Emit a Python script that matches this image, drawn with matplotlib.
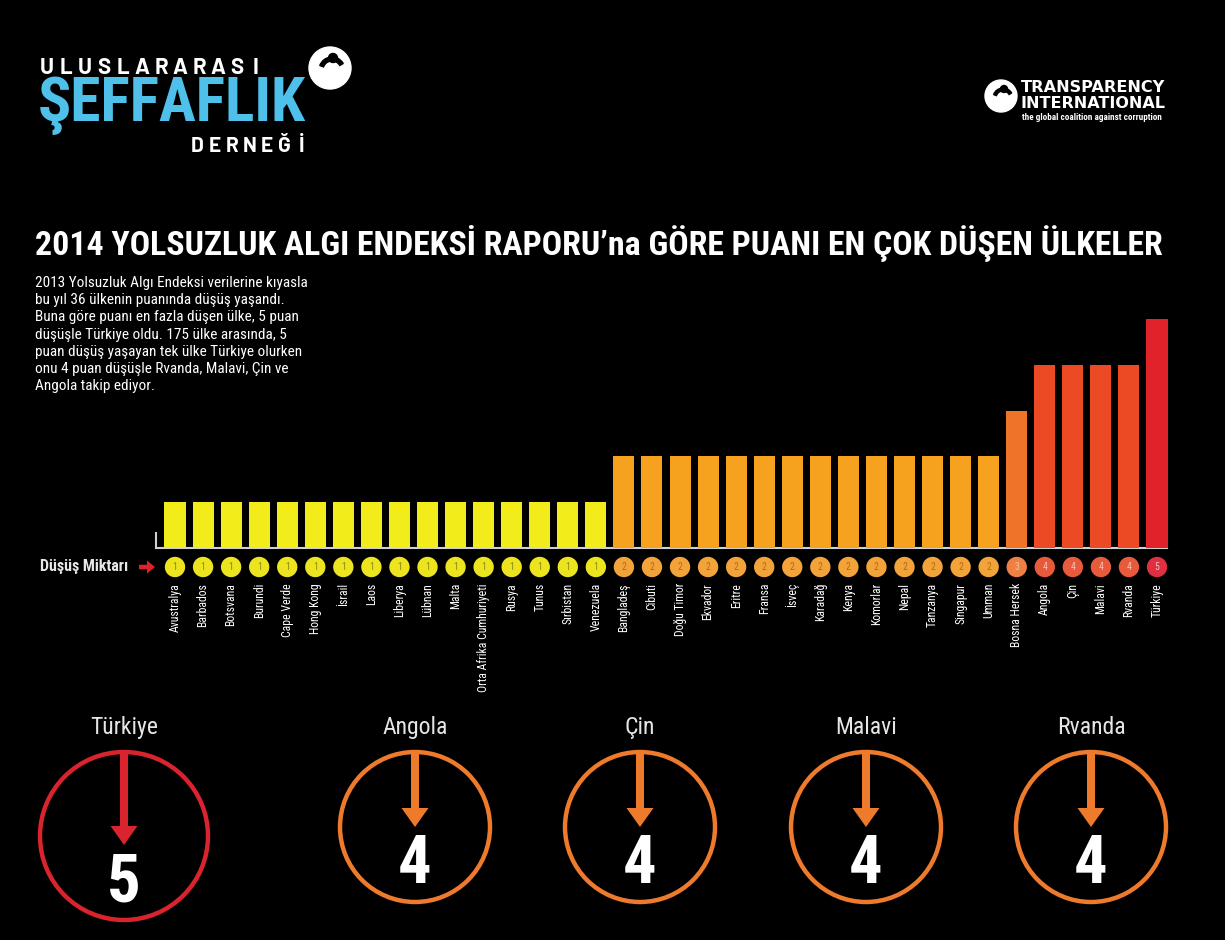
import matplotlib
matplotlib.use("Agg")
import matplotlib.pyplot as plt
from matplotlib import font_manager
from matplotlib.patches import Circle, FancyArrow, Wedge

# ---------------- data ----------------
countries = ["Avustralya", "Barbados", "Botsvana", "Burundi", "Cape Verde", "Hong Kong",
             "İsrail", "Laos", "Liberya", "Lübnan", "Malta", "Orta Afrika Cumhuriyeti",
             "Rusya", "Tunus", "Sırbistan", "Venezuela",
             "Bangladeş", "Cibuti", "Doğu Timor", "Ekvador", "Eritre", "Fransa", "İsveç",
             "Karadağ", "Kenya", "Komorlar", "Nepal", "Tanzanya", "Singapur", "Umman",
             "Bosna Hersek", "Angola", "Çin", "Malavi", "Rvanda", "Türkiye"]
drops = [1, 1, 1, 1, 1, 1, 1, 1, 1, 1, 1, 1, 1, 1, 1, 1,
         2, 2, 2, 2, 2, 2, 2, 2, 2, 2, 2, 2, 2, 2,
         3, 4, 4, 4, 4, 5]
top_names = ["Türkiye", "Angola", "Çin", "Malavi", "Rvanda"]
top_drops = [5, 4, 4, 4, 4]

title = "2014 YOLSUZLUK ALGI ENDEKSİ RAPORU\u2019na GÖRE PUANI EN ÇOK DÜŞEN ÜLKELER"
intro_lines = ["2013 Yolsuzluk Algı Endeksi verilerine kıyasla",
               "bu yıl 36 ülkenin puanında düşüş yaşandı.",
               "Buna göre puanı en fazla düşen ülke, 5 puan",
               "düşüşle Türkiye oldu. 175 ülke arasında, 5",
               "puan düşüş yaşayan tek ülke Türkiye olurken",
               "onu 4 puan düşüşle Rvanda, Malavi, Çin ve",
               "Angola takip ediyor."]

# ---------------- styles ----------------
names = {f.name for f in font_manager.fontManager.ttflist}


def pick(*cands):
    for c in cands:
        if c in names:
            return c
    return "DejaVu Sans"


COND = pick("Roboto Condensed", "Liberation Sans Narrow", "Liberation Sans")
LOGO = pick("Barlow", "DejaVu Sans")
plt.rcParams["font.family"] = [COND, "DejaVu Sans"]

bar_colors = {1: "#F3EC1B", 2: "#F6A21F", 3: "#EF7428", 4: "#EC4A24", 5: "#E0222B"}
dot_colors = {1: "#EDE420", 2: "#F2A33A", 3: "#EE8044", 4: "#E85A3C", 5: "#DE3040"}
num_colors = {1: "#8C8510", 2: "#B86A10", 3: "#F8C0A0", 4: "#F8C0B0", 5: "#F8C0C0"}
ring_colors = {5: "#D9232D", 4: "#EE7A2C"}

W, H = 1225, 940
fig = plt.figure(figsize=(W / 100, H / 100), dpi=100, facecolor="black")
ov = fig.add_axes([0, 0, 1, 1])
ov.set_xlim(0, W)
ov.set_ylim(H, 0)
ov.axis("off")

renderer = fig.canvas.get_renderer()


def fit(t, width):
    bb = t.get_window_extent(renderer)
    t.set_fontsize(t.get_fontsize() * width / bb.width)
    return t


# ---------------- header logos ----------------
for i, ch in enumerate("ULUSLARARASI"):
    ov.text(47 + i * 19, 68, ch, color="white", fontsize=16, fontweight="bold",
            family=[LOGO, "DejaVu Sans"], ha="center", va="center")
t = ov.text(38, 106, "ŞEFFAFLIK", color="#4EC0EA", fontsize=44, fontweight="heavy",
            ha="left", va="center")
fit(t, 268)
for i, ch in enumerate("DERNEĞİ"):
    ov.text(197 + i * 17.5, 146, ch, color="white", fontsize=15, fontweight="bold",
            family=[LOGO, "DejaVu Sans"], ha="center", va="center")
ov.add_patch(Circle((330, 68), 21, color="white"))
ov.add_patch(Wedge((332, 70), 13, 200, 330, width=4, color="black"))
ov.add_patch(Circle((333, 58), 4.5, color="black"))
ov.add_patch(Circle((1001, 96), 16, color="white"))
ov.add_patch(Wedge((1003, 98), 10, 200, 330, width=3, color="black"))
ov.add_patch(Circle((1004, 89), 3.5, color="black"))
t = ov.text(1021, 88, "TRANSPARENCY", color="white", fontsize=13, fontweight="bold",
            family="DejaVu Sans", ha="left", va="center")
fit(t, 144)
t = ov.text(1021, 104, "INTERNATIONAL", color="white", fontsize=13, fontweight="bold",
            family="DejaVu Sans", ha="left", va="center")
fit(t, 144)
t = ov.text(1022, 117, "the global coalition against corruption", color="white",
            fontsize=5, fontweight="bold", ha="left", va="center")
fit(t, 142)

# ---------------- title & intro ----------------
t = ov.text(35, 255, title, color="white", fontsize=26, fontweight="bold",
            ha="left", va="baseline")
fit(t, 1135)
for k, line in enumerate(intro_lines):
    t = ov.text(35, 283 + k * 17.2, line, color="white", fontsize=10,
                ha="left", va="center")
    if k == 0:
        fit(t, 272)
        fs_intro = t.get_fontsize()
    else:
        t.set_fontsize(fs_intro)

# ---------------- bar chart ----------------
step = (1157 - 175) / 35
unit = 45.8
base_px = 548
left_px = 175 - 0.5 * step
ax = fig.add_axes([left_px / W, (H - base_px) / H, 36 * step / W, 5 * unit / H])
ax.set_xlim(-0.5, 35.5)
ax.set_ylim(0, 5)
ax.patch.set_alpha(0)
ax.axis("off")

x = list(range(len(countries)))
ax.bar(x, drops, width=0.75, color=[bar_colors[v] for v in drops], clip_on=False)
y_dot = -(567 - base_px) / unit
ax.scatter(x, [y_dot] * len(x), s=215, c=[dot_colors[v] for v in drops],
           clip_on=False, zorder=3, linewidths=0)
for xi, v, name in zip(x, drops, countries):
    ax.text(xi, y_dot, str(v), color=num_colors[v], fontsize=7, ha="center",
            va="center", clip_on=False, zorder=4)
    ax.text(xi, -(583 - base_px) / unit, name, color="white", fontsize=8.5,
            rotation=90, ha="center", va="top", clip_on=False)

ov.plot([156, 1167], [base_px, base_px], color="#cfcfcf", lw=1.5)
ov.plot([156, 156], [533, base_px], color="#cfcfcf", lw=1.5)

t = ov.text(40, 567, "Düşüş Miktarı", color="#e8e8e8", fontsize=10, fontweight="bold",
            ha="left", va="center")
fit(t, 88)
ov.add_patch(FancyArrow(139, 567, 16, 0, width=4.5, head_width=13, head_length=8,
                        length_includes_head=True, color="#E0202A", lw=0))

# ---------------- bottom rings ----------------
ring_x = [124, 415, 640, 866, 1091]
ring_y = [836, 827, 827, 827, 827]
ring_r = [84, 75, 75, 75, 75]
for name, v, cx, cy, r in zip(top_names, top_drops, ring_x, ring_y, ring_r):
    col = ring_colors[v]
    ov.add_patch(Circle((cx, cy), r, fill=False, ec=col, lw=3.2))
    tip = cy + 9 if v == 5 else cy
    ov.add_patch(FancyArrow(cx, cy - r, 0, tip - (cy - r), width=8, head_width=27,
                            head_length=19, length_includes_head=True, color=col, lw=0))
    ov.text(cx, 734, name, color="#e6e6e6", fontsize=17, ha="center", va="baseline")
    ny = 902 if v == 5 else 883
    ov.text(cx, ny, str(v), color="white", fontsize=48, fontweight="bold",
            ha="center", va="baseline")

fig.savefig("out.png", dpi=100, facecolor="black")
